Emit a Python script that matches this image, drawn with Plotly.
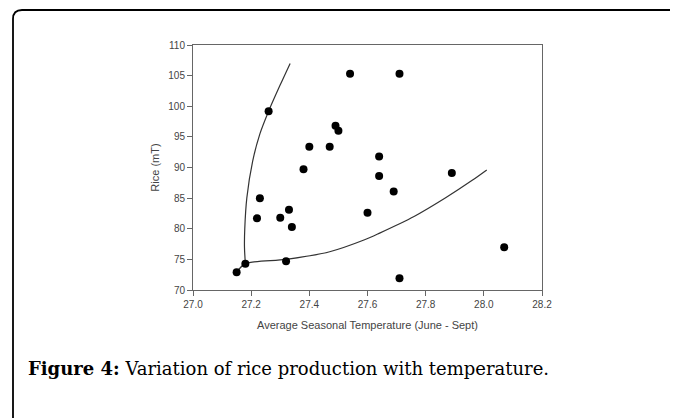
import plotly.graph_objects as go

# observed points (temperature degC, rice mT)
temperature = [27.15, 27.18, 27.26, 27.23, 27.22, 27.30, 27.33, 27.34, 27.32, 27.38,
               27.40, 27.47, 27.49, 27.50, 27.54, 27.64, 27.64, 27.60, 27.69, 27.71,
               27.89, 28.07, 27.71]
rice = [72.9, 74.3, 99.2, 85.0, 81.7, 81.8, 83.1, 80.3, 74.7, 89.7,
        93.4, 93.4, 96.8, 96.0, 105.3, 91.8, 88.6, 82.6, 86.1, 105.3,
        89.1, 77.0, 71.9]

# the two fitted curves
upper_curve_x = [27.18, 27.177, 27.178, 27.185, 27.205, 27.23, 27.26, 27.30, 27.334]
upper_curve_y = [74.3, 77.0, 80.0, 85.0, 91.0, 95.5, 99.2, 103.5, 107.0]
lower_curve_x = [27.15, 27.18, 27.32, 27.47, 27.59, 27.64, 27.76, 27.87, 27.96, 28.01]
lower_curve_y = [72.9, 74.3, 75.0, 76.25, 78.2, 79.25, 82.0, 85.1, 87.9, 89.6]

x_ticks = [27.0, 27.2, 27.4, 27.6, 27.8, 28.0, 28.2]
y_ticks = [70, 75, 80, 85, 90, 95, 100, 105, 110]

# page body has an 8px margin, so the figure is laid out 8px smaller
W, H = 670, 410
L, R, T, B = 185, 534, 37, 282  # plot area in pixels


def px(x):
    return (x - L) / (R - L)


def py(y):
    return (B - y) / (B - T)


fig = go.Figure()

fig.add_trace(go.Scatter(x=lower_curve_x, y=lower_curve_y, mode='lines',
                         line=dict(color='#333333', width=1.2, shape='spline', smoothing=0.8),
                         hoverinfo='skip', showlegend=False))
fig.add_trace(go.Scatter(x=upper_curve_x, y=upper_curve_y, mode='lines',
                         line=dict(color='#333333', width=1.2, shape='spline', smoothing=0.8),
                         hoverinfo='skip', showlegend=False))
fig.add_trace(go.Scatter(x=temperature, y=rice, mode='markers',
                         marker=dict(color='black', size=8),
                         showlegend=False))

axis_font = dict(family='Liberation Sans, Arial, sans-serif', size=10, color='#444444')
title_font = dict(family='Liberation Sans, Arial, sans-serif', size=11, color='#444444')

fig.update_layout(
    width=W, height=H,
    margin=dict(l=L, r=W - R, t=T, b=H - B),
    paper_bgcolor='white',
    plot_bgcolor='white',
    xaxis=dict(
        range=[27.0, 28.2], tickvals=x_ticks, ticktext=[f'{v:.1f}' for v in x_ticks],
        showgrid=False, zeroline=False,
        showline=True, linecolor='#666666', linewidth=1, mirror=True,
        ticks='outside', ticklen=5, tickcolor='#666666',
        tickfont=axis_font,
        title=dict(text='Average Seasonal Temperature (June - Sept)', standoff=12, font=title_font),
    ),
    yaxis=dict(
        range=[70, 110], tickvals=y_ticks,
        showgrid=False, zeroline=False,
        showline=True, linecolor='#666666', linewidth=1, mirror=True,
        ticks='outside', ticklen=5, tickcolor='#666666',
        tickfont=axis_font,
        title=dict(text='Rice (mT)', standoff=6, font=title_font),
    ),
)

# outer rounded frame of the figure panel
r = 9
frame = (f'M {px(5)} {py(H + 5)} L {px(5)} {py(2 + r)} '
         f'Q {px(5)} {py(2)} {px(5 + r)} {py(2)} L {px(W + 5)} {py(2)}')
fig.add_shape(type='path', path=frame, xref='paper', yref='paper',
              line=dict(color='black', width=1.8))

fig.add_annotation(
    text='<b>Figure 4:</b> Variation of rice production with temperature.',
    xref='paper', yref='paper', x=px(18), y=py(360),
    xanchor='left', yanchor='middle', showarrow=False,
    font=dict(family='DejaVu Serif, serif', size=18, color='black'),
)

fig.write_html('out.html')
